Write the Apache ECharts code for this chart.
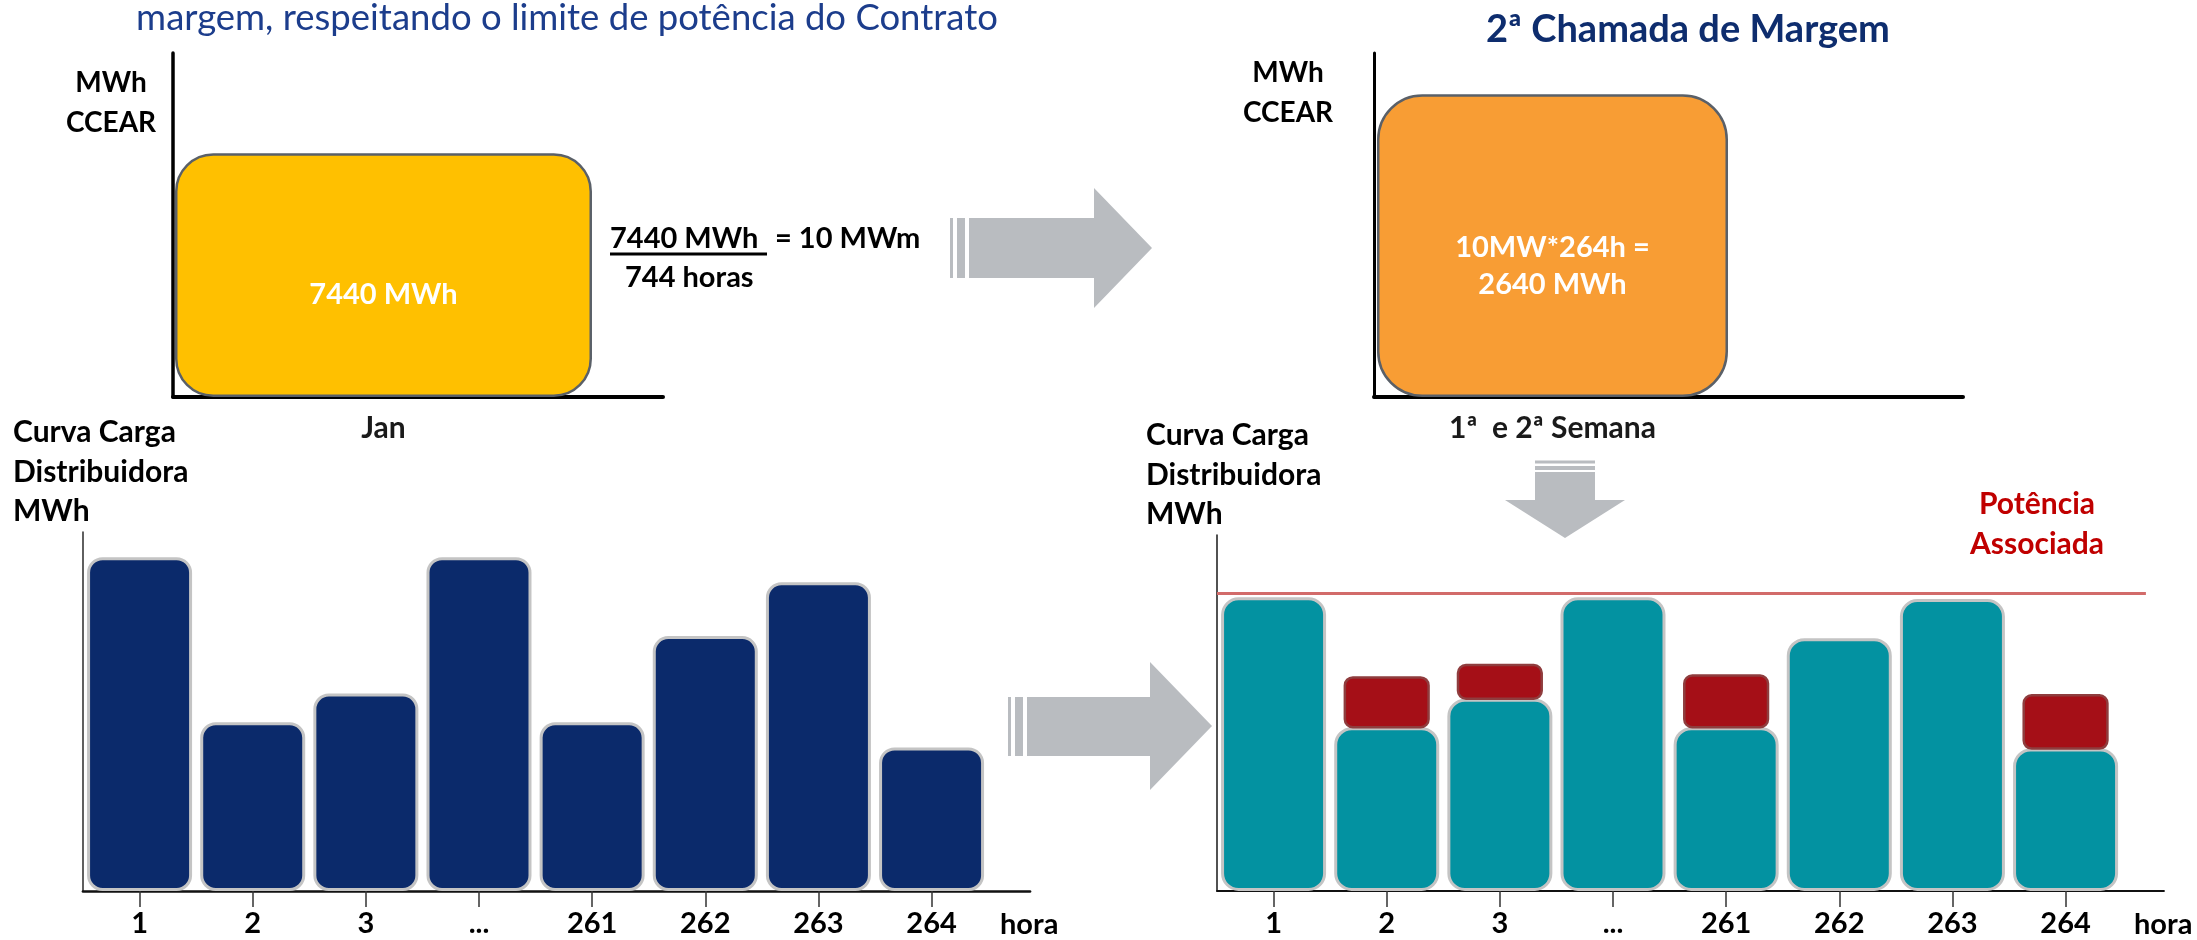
<!DOCTYPE html>
<html>
<head>
<meta charset="utf-8">
<script src="https://cdn.jsdelivr.net/npm/echarts@6/dist/echarts.min.js"></script>
<style>
  html, body { margin: 0; padding: 0; background: #ffffff; }
  #chart { width: 2197px; height: 940px; }
</style>
</head>
<body>
<div id="chart"></div>
<script>
// Energia contratada no CCEAR (mês) e na 2ª chamada de margem (semanas)
const mesLabels = ['Jan'];
const mesEnergia = [7440];              // MWh no mês (744 h x 10 MWm)
const semanaLabels = ['1ª  e 2ª Semana'];
const semanaEnergia = [2640];           // MWh = 10 MW * 264 h

// Curva de carga horária da distribuidora (valores relativos)
const horas = ['1', '2', '3', '...', '261', '262', '263', '264'];
const cargaOriginal = [93, 47, 55, 93, 47, 71, 86, 40];
const cargaAjustada = [82.5, 46, 54, 82.5, 46, 71, 82, 40];
const margemAlocada = [0, 14, 9.5, 0, 14.5, 0, 0, 15];
const potenciaAssociada = 83.5;

const FONT = 'Lato';
const NAVY = '#0B2A6B';
const TEAL = '#0392A1';

const chart = echarts.init(document.getElementById('chart'), null, { renderer: 'canvas' });

const hourTicks = horas.map((h, i) => i + 1);
const hourLabel = v => horas[Math.round(v) - 1] || '';

function hourAxis(gridIndex, lineWidth) {
  return {
    type: 'value', gridIndex, min: 0.5, max: 8.87,
    name: 'hora', nameLocation: 'end', nameGap: -30,
    nameTextStyle: { fontFamily: FONT, fontWeight: 'bold', fontSize: 29, color: '#000',
      align: 'left', verticalAlign: 'top', padding: [19, 0, 0, 0], lineHeight: 30 },
    axisLine: { show: true, onZero: false, lineStyle: { color: '#111', width: lineWidth } },
    axisTick: { show: true, customValues: hourTicks, length: 16, lineStyle: { color: '#333', width: 1.5 } },
    axisLabel: { show: true, customValues: hourTicks, formatter: hourLabel, margin: 18,
      fontFamily: FONT, fontWeight: 'bold', fontSize: 29, color: '#000', lineHeight: 30 },
    splitLine: { show: false }, minorTick: { show: false }
  };
}

function plainYAxis(gridIndex, max, lineWidth, color) {
  return {
    type: 'value', gridIndex, min: 0, max,
    axisLine: { show: true, onZero: false, lineStyle: { color, width: lineWidth } },
    axisTick: { show: false }, axisLabel: { show: false }, splitLine: { show: false }
  };
}

function periodAxis(gridIndex, max, labels) {
  return {
    type: 'value', gridIndex, min: 0.5, max,
    axisLine: { show: true, onZero: false, lineStyle: { color: '#000', width: 4 } },
    axisTick: { show: false },
    axisLabel: { show: true, customValues: [1], formatter: v => labels[Math.round(v) - 1] || '',
      margin: 15, fontFamily: FONT, fontWeight: 'bold', fontSize: 30, color: '#1a1a1a', lineHeight: 32 },
    splitLine: { show: false }
  };
}

function txt(text, x, y, extra) {
  const align = (extra && extra.align) || 'center';
  return {
    type: 'text', x, y, z: 100,
    style: Object.assign({
      text, fill: '#000', fontFamily: FONT, fontWeight: 'bold', fontSize: 28,
      lineHeight: 40, align, textAlign: align, verticalAlign: 'middle', textVerticalAlign: 'middle'
    }, extra || {})
  };
}

const ARROW = '#B9BCC0';

const option = {
  backgroundColor: '#ffffff',
  animation: false,
  grid: [
    { left: 173, top: 53, width: 490, height: 344 },
    { left: 1374, top: 53, width: 589, height: 344 },
    { left: 83, top: 532, width: 947, height: 359 },
    { left: 1217, top: 535, width: 947, height: 358 }
  ],
  xAxis: [
    periodAxis(0, 1.664, mesLabels),
    periodAxis(1, 2.15, semanaLabels),
    hourAxis(2, 2.7),
    hourAxis(3, 1.8)
  ],
  yAxis: [
    plainYAxis(0, 10500, 3.5, '#000'),
    plainYAxis(1, 3000, 3, '#000'),
    plainYAxis(2, 100, 1.7, '#444'),
    plainYAxis(3, 100, 1.7, '#333')
  ],
  series: [
    {
      type: 'bar', xAxisIndex: 0, yAxisIndex: 0, barWidth: 417,
      data: mesEnergia.map((v, i) => [i + 1, v]),
      itemStyle: { color: '#FFC000', borderColor: '#5A6068', borderWidth: 2.5, borderRadius: 37 },
      label: { show: true, position: 'inside', offset: [0, 20], formatter: p => p.value[1] + ' MWh',
        color: '#ffffff', fontFamily: FONT, fontWeight: 'bold', fontSize: 29 }
    },
    {
      type: 'bar', xAxisIndex: 1, yAxisIndex: 1, barWidth: 351,
      data: semanaEnergia.map((v, i) => [i + 1, v]),
      itemStyle: { color: '#F89D34', borderColor: '#5A6068', borderWidth: 2.5, borderRadius: 44 },
      label: { show: true, position: 'inside', offset: [0, 21],
        formatter: p => '10MW*264h =\n' + p.value[1] + ' MWh',
        color: '#ffffff', fontFamily: FONT, fontWeight: 'bold', fontSize: 29, lineHeight: 37 }
    },
    {
      type: 'bar', xAxisIndex: 2, yAxisIndex: 2, barWidth: 105,
      data: cargaOriginal.map((v, i) => [i + 1, v]),
      itemStyle: { color: NAVY, borderColor: '#C4C4C4', borderWidth: 3, borderRadius: 14 }
    },
    {
      type: 'bar', xAxisIndex: 3, yAxisIndex: 3, barWidth: 105,
      data: cargaAjustada.map((v, i) => [i + 1, v]),
      itemStyle: { color: TEAL, borderColor: '#C4C4C4', borderWidth: 3, borderRadius: 16 },
      markLine: {
        silent: true, symbol: ['none', 'none'], label: { show: false },
        lineStyle: { color: '#D26B6A', width: 3, type: 'solid' },
        data: [[{ coord: [0.5, potenciaAssociada] }, { coord: [8.71, potenciaAssociada] }]]
      }
    },
    {
      type: 'custom', xAxisIndex: 3, yAxisIndex: 3, z: 3,
      data: margemAlocada.map((m, i) => [i + 1, cargaAjustada[i], m]),
      encode: { x: 0, y: 1 },
      renderItem: function (params, api) {
        const extra = api.value(2);
        if (!extra) return null;
        const x = api.value(0);
        const base = api.value(1);
        const top = api.coord([x, base + extra]);
        const bottom = api.coord([x, base]);
        const w = api.size([1, 0])[0] * 0.74;
        return {
          type: 'rect',
          shape: { x: top[0] - w / 2, y: top[1], width: w, height: bottom[1] - top[1], r: 8 },
          style: { fill: '#A50F17', stroke: '#8F3D3E', lineWidth: 2.5 }
        };
      }
    }
  ],
  graphic: [
    // textos
    txt('margem, respeitando o limite de potência do Contrato', 567, 18,
      { fontWeight: 'normal', fontSize: 36.5, fill: '#1C3D8C' }),
    txt('2ª Chamada de Margem', 1688, 30, { fontSize: 38, fill: '#0E2D6E' }),
    txt('MWh\nCCEAR', 111, 103),
    txt('MWh\nCCEAR', 1288, 93),
    txt('7440 MWh', 610, 239, { align: 'left', fontSize: 29 }),
    txt('= 10 MWm', 775, 239, { align: 'left', fontSize: 29 }),
    txt('744 horas', 625, 278, { align: 'left', fontSize: 29 }),
    txt('Curva Carga\nDistribuidora\nMWh', 13, 472, { align: 'left', fontSize: 30, lineHeight: 39.5 }),
    txt('Curva Carga\nDistribuidora\nMWh', 1146, 475, { align: 'left', fontSize: 30, lineHeight: 39.5 }),
    txt('Potência\nAssociada', 2037, 524, { fontSize: 30, fill: '#C00000' }),
    // traço da fração
    { type: 'line', shape: { x1: 610, y1: 254, x2: 767, y2: 254 }, style: { stroke: '#000', lineWidth: 3 } },
    // seta superior (mês -> semanas)
    { type: 'rect', shape: { x: 950, y: 218, width: 3, height: 60 }, style: { fill: ARROW } },
    { type: 'rect', shape: { x: 957, y: 218, width: 8, height: 60 }, style: { fill: ARROW } },
    { type: 'polygon', shape: { points: [[969, 218], [1094, 218], [1094, 188], [1152, 248], [1094, 308], [1094, 278], [969, 278]] },
      style: { fill: ARROW } },
    // seta inferior (curva original -> curva ajustada)
    { type: 'rect', shape: { x: 1008, y: 697, width: 3, height: 59 }, style: { fill: ARROW } },
    { type: 'rect', shape: { x: 1015, y: 697, width: 8, height: 59 }, style: { fill: ARROW } },
    { type: 'polygon', shape: { points: [[1027, 697], [1150, 697], [1150, 662], [1212, 726], [1150, 790], [1150, 756], [1027, 756]] },
      style: { fill: ARROW } },
    // seta para baixo (semanas -> curva ajustada)
    { type: 'rect', shape: { x: 1535, y: 460.5, width: 60, height: 3 }, style: { fill: ARROW } },
    { type: 'rect', shape: { x: 1535, y: 466, width: 60, height: 4 }, style: { fill: ARROW } },
    { type: 'polygon', shape: { points: [[1535, 472], [1595, 472], [1595, 500], [1625, 500], [1565, 538], [1505, 500], [1535, 500]] },
      style: { fill: ARROW } }
  ]
};

chart.setOption(option);
</script>
</body>
</html>
